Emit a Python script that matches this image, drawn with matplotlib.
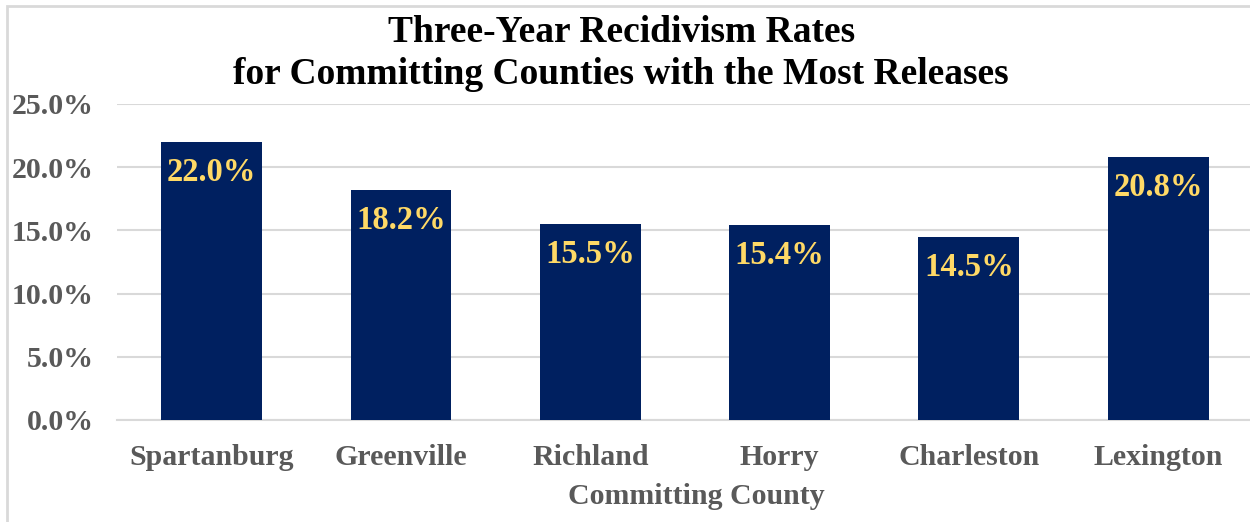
import matplotlib
matplotlib.use("Agg")
import matplotlib.pyplot as plt
from matplotlib.patches import Rectangle

counties = ["Spartanburg", "Greenville", "Richland", "Horry", "Charleston", "Lexington"]
rates = [22.0, 18.2, 15.5, 15.4, 14.5, 20.8]
yticks = [0, 5, 10, 15, 20, 25]

plt.rcParams['font.family'] = ['Liberation Serif', 'DejaVu Serif']
plt.rcParams['font.weight'] = 'bold'

gray = '#595959'
navy = '#002060'
gold = '#FFD966'

fig = plt.figure(figsize=(12.5, 5.22), dpi=100)
# chart border, cut off at right and bottom like the reference
fig.patches.append(Rectangle((7 / 1250, -0.1), 1.2, 1 - 6 / 522 + 0.1,
                             transform=fig.transFigure, fill=False,
                             edgecolor='#D9D9D9', linewidth=2))

ax = fig.add_axes([117 / 1250, 1 - 420 / 522, 1 - 117 / 1250, 316 / 522])
x = list(range(len(counties)))
bars = ax.bar(x, rates, width=0.533, color=navy, zorder=3)

for b, v in zip(bars, rates):
    ax.text(b.get_x() + b.get_width() / 2, v - 2.4, "{:.1f}%".format(v),
            ha='center', va='center', color=gold, fontsize=23.5, fontweight='bold', zorder=4)

ax.set_xlim(-0.5, 5.485)
ax.set_ylim(0, 25)
ax.set_yticks(yticks)
ax.set_yticklabels(["{:.1f}%".format(t) for t in yticks], color=gray, fontsize=21.5)
ax.set_xticks(x)
ax.set_xticklabels(counties, color=gray, fontsize=21.5)
ax.tick_params(axis='both', length=0)
ax.tick_params(axis='x', pad=17)
ax.tick_params(axis='y', pad=17)
ax.yaxis.grid(True, color='#D9D9D9', linewidth=1.5, zorder=0)
for s in ['top', 'right', 'left']:
    ax.spines[s].set_visible(False)
ax.spines['bottom'].set_color('#D9D9D9')
ax.spines['bottom'].set_linewidth(1.5)

fig.text(696 / 1250, 1 - 497 / 522, "Committing County", ha='center', va='center',
         color=gray, fontsize=21.5, fontweight='bold')

fig.text(0.497, 1 - 33 / 522, "Three-Year Recidivism Rates", ha='center', va='center',
         fontsize=27, fontweight='bold', color='black')
fig.text(0.497, 1 - 75 / 522, "for Committing Counties with the Most Releases", ha='center',
         va='center', fontsize=27, fontweight='bold', color='black')

fig.savefig("out.png", dpi=100)
